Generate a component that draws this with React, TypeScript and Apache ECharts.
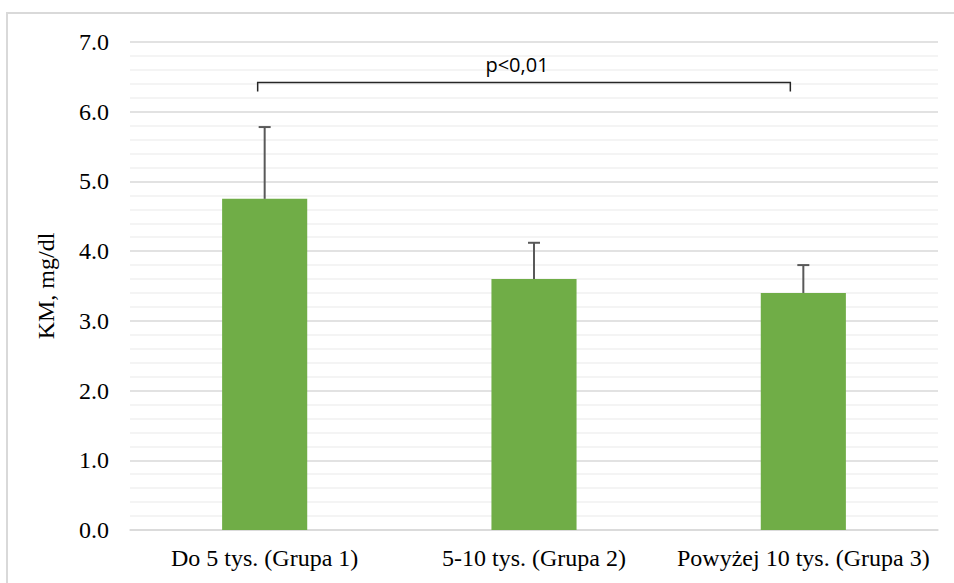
import React, { useEffect, useRef } from "react";
import * as echarts from "echarts";

const categories = ["Do 5 tys. (Grupa 1)", "5-10 tys. (Grupa 2)", "Powyżej 10 tys. (Grupa 3)"];
const means = [4.75, 3.6, 3.4];
const upperErrors = [5.78, 4.12, 3.8];
const yTicks = { min: 0, max: 7, interval: 1 };
const significance = { from: 0, to: 2, level: 6.42, label: "p<0,01" };

const SERIF = "'Liberation Serif', 'Times New Roman', serif";
const SANS = "'Open Sans', 'Liberation Sans', sans-serif";

export default function App() {
  const ref = useRef<HTMLDivElement>(null);

  useEffect(() => {
    if (!ref.current) return;
    const chart = echarts.init(ref.current, null, { renderer: "svg" });

    chart.setOption({
      animation: false,
      backgroundColor: "#ffffff",
      graphic: [
        {
          type: "rect",
          shape: { x: 7, y: 13, width: 960, height: 600 },
          style: { fill: "none", stroke: "#d9d9d9", lineWidth: 2 },
          silent: true,
        },
      ],
      grid: { left: 130, right: 16, top: 42, bottom: 53 },
      xAxis: {
        type: "category",
        data: categories,
        axisTick: { show: false },
        axisLine: { lineStyle: { color: "#d9d9d9", width: 1.5 } },
        axisLabel: {
          color: "#000",
          fontFamily: SERIF,
          fontSize: 24,
          margin: 16,
          interval: 0,
        },
      },
      yAxis: {
        type: "value",
        min: yTicks.min,
        max: yTicks.max,
        interval: yTicks.interval,
        name: "KM, mg/dl",
        nameLocation: "middle",
        nameGap: 72,
        nameRotate: 90,
        nameTextStyle: { color: "#000", fontFamily: SERIF, fontSize: 24 },
        axisLabel: {
          color: "#000",
          fontFamily: SERIF,
          fontSize: 24,
          margin: 21,
          formatter: (v: number) => v.toFixed(1),
        },
        axisLine: { show: false },
        axisTick: { show: false },
        splitLine: { lineStyle: { color: "#d9d9d9", width: 1.5 } },
        minorTick: { show: false, splitNumber: 5 },
        minorSplitLine: { show: true, lineStyle: { color: "#f0f0f0", width: 1.5 } },
      },
      series: [
        {
          type: "bar",
          data: means,
          barWidth: "31.6%",
          itemStyle: { color: "#70ad47" },
          z: 2,
        },
        {
          type: "custom",
          z: 3,
          data: means.map((m, i) => [i, m, upperErrors[i]]),
          renderItem: (params: any, api: any) => {
            const i = api.value(0);
            const base = api.coord([i, api.value(1)]);
            const top = api.coord([i, api.value(2)]);
            const cap = 6;
            return {
              type: "group",
              children: [
                {
                  type: "line",
                  shape: { x1: base[0], y1: base[1], x2: top[0], y2: top[1] },
                  style: { stroke: "#595959", lineWidth: 2 },
                },
                {
                  type: "line",
                  shape: { x1: top[0] - cap, y1: top[1], x2: top[0] + cap, y2: top[1] },
                  style: { stroke: "#595959", lineWidth: 2 },
                },
              ],
            };
          },
        },
        {
          type: "custom",
          z: 4,
          data: [[significance.from, significance.to, significance.level]],
          renderItem: (params: any, api: any) => {
            const a = api.coord([api.value(0), api.value(2)]);
            const b = api.coord([api.value(1), api.value(2)]);
            const x1 = a[0] - 7;
            const x2 = b[0] - 13;
            const y = a[1];
            const drop = 9;
            return {
              type: "group",
              children: [
                {
                  type: "polyline",
                  shape: {
                    points: [
                      [x1, y + drop],
                      [x1, y],
                      [x2, y],
                      [x2, y + drop],
                    ],
                  },
                  style: { stroke: "#262626", lineWidth: 1.5, fill: "none" },
                },
                {
                  type: "text",
                  style: {
                    text: significance.label,
                    x: (x1 + x2) / 2 - 7,
                    y: y - 18,
                    align: "center",
                    verticalAlign: "middle",
                    fontFamily: SANS,
                    fontSize: 20,
                    fill: "#000",
                  },
                },
              ],
            };
          },
        },
      ],
    });

    return () => chart.dispose();
  }, []);

  return (
    <div
      ref={ref}
      style={{ position: "fixed", left: 0, top: 0, width: 954, height: 583 }}
    />
  );
}
